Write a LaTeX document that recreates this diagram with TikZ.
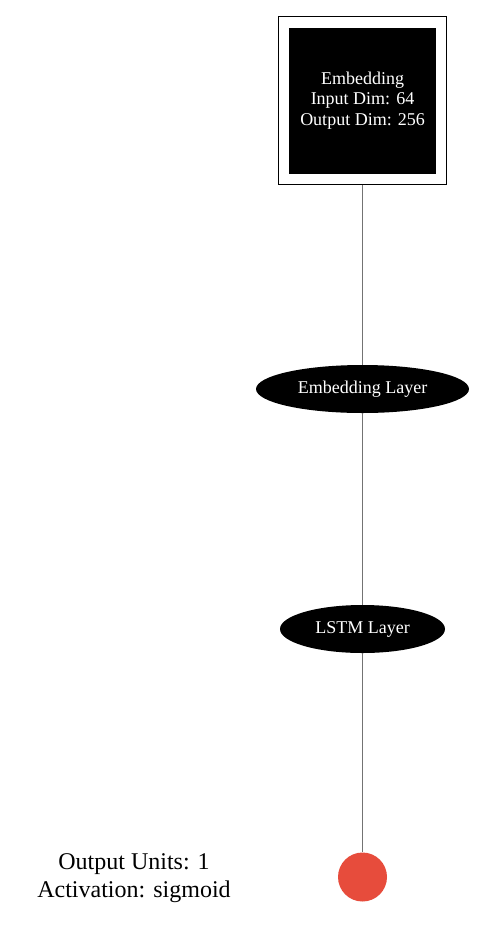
\documentclass[tikz,border=0pt]{standalone}
\usepackage{fontspec}
\setmainfont{Liberation Serif}
\usetikzlibrary{shapes.geometric}
\begin{document}
\begin{tikzpicture}[x=0.75pt,y=-0.75pt,
  conn/.style={draw=gray!90!black, line width=0.9pt},
  layerell/.style={ellipse, fill=black, text=white, inner sep=0pt, font=\fontsize{13.5pt}{15pt}\selectfont},
  boxtext/.style={fill=black, text=white, align=center, inner sep=0pt, font=\fontsize{13.5pt}{15.4pt}\selectfont},
  outerbox/.style={draw=black, fill=white, line width=0.75pt, inner sep=0pt}]
\useasboundingbox (0,0) rectangle (496,936);
\fill[white] (0,0) rectangle (496,936);
\node[outerbox, minimum width=168*0.75pt, minimum height=168*0.75pt] (embouter) at (362.5,100) {};
\node[boxtext, minimum width=147*0.75pt, minimum height=146*0.75pt] (emb) at (362.5,100.5) {Embedding\\Input Dim: 64\\Output Dim: 256};
\node[layerell, minimum width=213*0.75pt, minimum height=48*0.75pt] (embl) at (362.5,389) {Embedding Layer};
\node[layerell, minimum width=165*0.75pt, minimum height=48*0.75pt] (lstm) at (362.5,629) {LSTM Layer};
\node[circle, fill={rgb,255:red,231;green,76;blue,60}, minimum size=49*0.75pt, inner sep=0pt] (out) at (362.5,877) {};
\node[align=center, font=\fontsize{18pt}{20.5pt}\selectfont] (outlabel) at (134,878) {Output Units: 1\\Activation: sigmoid};
\draw[conn] (embouter.south) -- (embl.north);
\draw[conn] (embl.south) -- (lstm.north);
\draw[conn] (lstm.south) -- (out.north);
\end{tikzpicture}
\end{document}
